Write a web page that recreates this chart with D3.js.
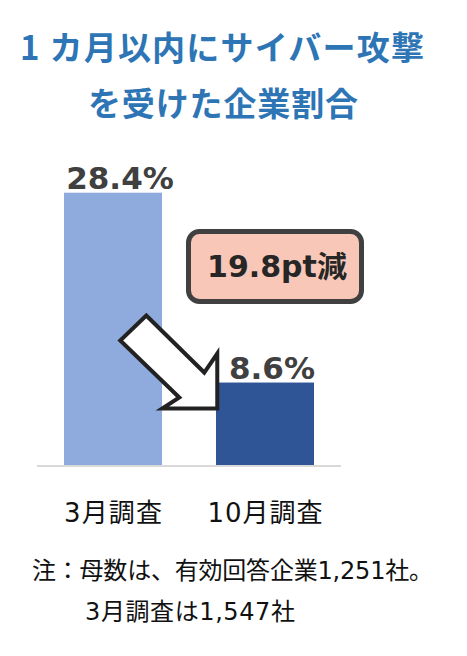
<!DOCTYPE html>
<html>
<head>
<meta charset="utf-8">
<script src="https://cdn.jsdelivr.net/npm/d3@7"></script>
<style>
  html, body { margin: 0; padding: 0; background: #fff; }
  svg { display: block; }
</style>
</head>
<body>
<div id="chart"></div>
<script>
// share of firms hit by a cyber attack within one month, March vs October survey
var categories = ["3月調査", "10月調査"],
    values = [28.4, 8.6],
    valueLabels = ["28.4%", "8.6%"],
    barColors = ["#8faadc", "#2f5597"],
    titleLines = ["1 カ月以内にサイバー攻撃", "を受けた企業割合"],
    diffLabel = "19.8pt減",
    noteLines = ["注：母数は、有効回答企業1,251社。", "3月調査は1,547社"];

var width = 467, height = 656;

var svg = d3.select("#chart").append("svg")
    .attr("width", width)
    .attr("height", height);

// scales: baseline at 465, ~9.59px per point
var x = d3.scaleBand()
    .domain(categories)
    .range([37, 341])
    .paddingInner(0.355)
    .paddingOuter(0.1776);

var y = d3.scaleLinear()
    .domain([0, 30])
    .range([465, 465 - 30 * 9.588]);

// title
svg.selectAll("text.title")
  .data(titleLines)
  .enter().append("text")
    .attr("class", "title")
    .attr("x", function(d, i) { return i === 0 ? 222 : 223; })
    .attr("y", function(d, i) { return 60 + i * 56; })
    .attr("text-anchor", "middle")
    .attr("textLength", function(d, i) { return i === 0 ? 404 : 270; })
    .attr("lengthAdjust", "spacing")
    .style("font-family", "'Noto Sans CJK JP', sans-serif")
    .style("font-weight", "bold")
    .style("font-size", "33px")
    .style("fill", "#2e75b6")
    .text(function(d) { return d; });

// bars
svg.selectAll("rect.bar")
  .data(values)
  .enter().append("rect")
    .attr("class", "bar")
    .attr("x", function(d, i) { return x(categories[i]); })
    .attr("y", function(d) { return y(d); })
    .attr("width", x.bandwidth())
    .attr("height", function(d) { return y(0) - y(d); })
    .attr("fill", function(d, i) { return barColors[i]; });

// baseline
svg.append("line")
    .attr("x1", x.range()[0]).attr("x2", x.range()[1])
    .attr("y1", y(0) + 1).attr("y2", y(0) + 1)
    .attr("stroke", "#d9d9d9")
    .attr("stroke-width", 2);

// value labels
svg.selectAll("text.val")
  .data(values)
  .enter().append("text")
    .attr("class", "val")
    .attr("x", function(d, i) { return x(categories[i]) + x.bandwidth() / 2 + 7; })
    .attr("y", function(d) { return y(d) - 3.5; })
    .attr("text-anchor", "middle")
    .style("font-family", "'DejaVu Sans', sans-serif")
    .style("font-weight", "bold")
    .style("font-size", "31px")
    .style("fill", "#404040")
    .text(function(d, i) { return valueLabels[i]; });

// category labels
svg.selectAll("text.cat")
  .data(categories)
  .enter().append("text")
    .attr("class", "cat")
    .attr("x", function(d) { return x(d) + x.bandwidth() / 2; })
    .attr("y", 522)
    .attr("text-anchor", "middle")
    .attr("textLength", function(d, i) { return i === 0 ? 98 : 115; })
    .attr("lengthAdjust", "spacing")
    .style("font-family", "'DejaVu Sans', 'Noto Sans CJK JP', sans-serif")
    .style("font-size", "26px")
    .style("fill", "#111")
    .text(function(d) { return d; });

// difference callout box
var box = svg.append("g");
box.append("rect")
    .attr("x", 188.5).attr("y", 231.5)
    .attr("width", 173).attr("height", 70)
    .attr("rx", 11).attr("ry", 11)
    .attr("fill", "#f8c7b7")
    .attr("stroke", "#404040")
    .attr("stroke-width", 5);
box.append("text")
    .attr("x", 277).attr("y", 277)
    .attr("text-anchor", "middle")
    .style("font-family", "'DejaVu Sans', 'Noto Sans CJK JP', sans-serif")
    .style("font-weight", "bold")
    .style("font-size", "30px")
    .style("fill", "#262626")
    .text(diffLabel);

// down arrow, tip sits at the left edge of the second bar
var arrowShape = [[-71, -93], [-13, -36], [0, -55], [0, 0], [-55, 0], [-38, -11], [-97, -68]];
var tipX = x(categories[1]) + 1.3,
    tipY = y(values[1]) + 26;
svg.append("path")
    .attr("d", d3.line()(arrowShape) + "Z")
    .attr("transform", "translate(" + tipX + "," + tipY + ")")
    .attr("fill", "#fff")
    .attr("stroke", "#222")
    .attr("stroke-width", 4)
    .attr("stroke-linejoin", "miter");

// note
svg.selectAll("text.note")
  .data(noteLines)
  .enter().append("text")
    .attr("class", "note")
    .attr("x", function(d, i) { return i === 0 ? 32 : 85; })
    .attr("y", function(d, i) { return i === 0 ? 579 : 620; })
    .attr("textLength", function(d, i) { return i === 0 ? 401 : 210; })
    .attr("lengthAdjust", "spacing")
    .style("font-family", "'DejaVu Sans', 'Noto Sans CJK JP', sans-serif")
    .style("font-size", "24px")
    .style("fill", "#111")
    .text(function(d) { return d; });
</script>
</body>
</html>
